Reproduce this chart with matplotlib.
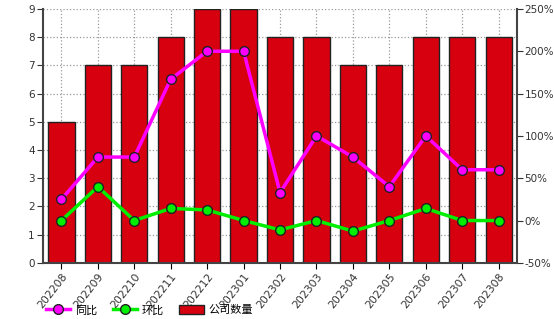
import matplotlib
matplotlib.use('Agg')
import matplotlib.pyplot as plt
import numpy as np
from matplotlib.ticker import FuncFormatter

plt.rcParams['font.family'] = ['DejaVu Sans', 'Noto Sans CJK SC']

months = ['202208', '202209', '202210', '202211', '202212', '202301', '202302',
          '202303', '202304', '202305', '202306', '202307', '202308']
counts = [5, 7, 7, 8, 9, 9, 8, 8, 7, 7, 8, 8, 8]
yoy = [25, 75, 75, 167, 200, 200, 33, 100, 75, 40, 100, 60, 60]       # 同比 %
mom = [0, 40, 0, 14.3, 12.5, 0, -11.1, 0, -12.5, 0, 14.3, 0, 0]       # 环比 %

fig = plt.figure(figsize=(5.54, 3.19), dpi=100)
ax = fig.add_axes([0.078, 0.176, 0.855, 0.796])
x = np.arange(len(months))

bars = ax.bar(x, counts, width=0.72, color='#d7000f', edgecolor='#222222', linewidth=1, zorder=2, label='公司数量')
ax.set_xlim(-0.5, len(months) - 0.5)
ax.set_ylim(0, 9)
ax.set_yticks(range(0, 10))
ax.grid(True, color='#999999', linestyle=':', linewidth=0.9, zorder=0)
ax.set_axisbelow(True)
ax.set_xticks(x)
ax.set_xticklabels(months, rotation=52, ha='right', rotation_mode='anchor', fontsize=7.8, color='#333333')
ax.tick_params(axis='y', labelsize=7.5, colors='#333333', length=4, pad=2)
ax.tick_params(axis='x', length=4, pad=2)
for s in ['left', 'bottom']:
    ax.spines[s].set_color('#444444')
    ax.spines[s].set_linewidth(1.5)
ax.spines['top'].set_visible(False)
ax.spines['right'].set_visible(False)

ax2 = ax.twinx()
ax2.set_ylim(-50, 250)
ax2.set_yticks(range(-50, 251, 50))
ax2.yaxis.set_major_formatter(FuncFormatter(lambda v, p: f'{int(v)}%'))
ax2.tick_params(axis='y', labelsize=7.5, colors='#333333', length=4, pad=1.5)
for s in ['left', 'bottom', 'top']:
    ax2.spines[s].set_visible(False)
ax2.spines['right'].set_color('#444444')
ax2.spines['right'].set_linewidth(1.5)

l1, = ax2.plot(x, yoy, color='#ff00ff', linewidth=2.5, marker='o', markersize=7,
               markerfacecolor='#ff00ff', markeredgecolor='#222222', markeredgewidth=1, label='同比', zorder=3)
l2, = ax2.plot(x, mom, color='#00ee00', linewidth=2.5, marker='o', markersize=7,
               markerfacecolor='#00ee00', markeredgecolor='#222222', markeredgewidth=1, label='环比', zorder=3)

leg = fig.legend(handles=[l1, l2, bars], labels=['同比', '环比', '公司数量'], loc='lower left',
                 bbox_to_anchor=(0.065, -0.02), ncol=3, frameon=False,
                 handlelength=2.2, handleheight=0.9, columnspacing=1.4, handletextpad=0.4,
                 prop={'family': ['Noto Sans CJK SC'], 'size': 8})

fig.savefig('out.png', dpi=100)
